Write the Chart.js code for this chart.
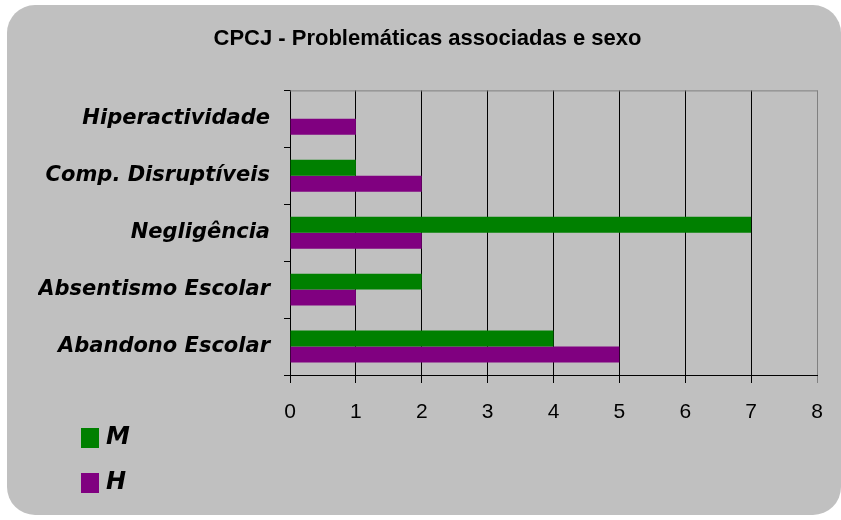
<!DOCTYPE html>
<html>
<head>
<meta charset="utf-8">
<script src="https://cdn.jsdelivr.net/npm/chart.js@4.4.1/dist/chart.umd.min.js"></script>
<style>
  html, body { margin: 0; padding: 0; background: #ffffff; }
  canvas { display: block; }
</style>
</head>
<body>
<canvas id="chart" width="841" height="520"></canvas>
<script>
const categories = ["Hiperactividade", "Comp. Disruptíveis", "Negligência", "Absentismo Escolar", "Abandono Escolar"];
const valuesM = [0, 1, 7, 2, 4];
const valuesH = [1, 2, 2, 1, 5];
const xTicks = [0, 1, 2, 3, 4, 5, 6, 7, 8];

const GRAY = '#c0c0c0';

// rounded gray panel behind everything + gray top/right border of the plot
const panel = {
    id: 'panel',
    beforeDraw(chart) {
        const ctx = chart.ctx;
        ctx.save();
        ctx.fillStyle = '#ffffff';
        ctx.fillRect(0, 0, chart.width, chart.height);
        ctx.fillStyle = GRAY;
        ctx.beginPath();
        ctx.roundRect(7, 5, 834, 510, [28, 28, 28, 28]);
        ctx.fill();
        ctx.restore();
    },
    afterDraw(chart) {
        const a = chart.chartArea;
        const ctx = chart.ctx;
        ctx.save();
        ctx.strokeStyle = '#808080';
        ctx.lineWidth = 1;
        ctx.beginPath();
        ctx.moveTo(a.left, a.top + 0.5);
        ctx.lineTo(a.right + 0.5, a.top + 0.5);
        ctx.lineTo(a.right + 0.5, a.bottom);
        ctx.stroke();

        // legend, bottom left
        ctx.font = 'italic bold 24px "DejaVu Sans", sans-serif';
        ctx.textBaseline = 'middle';
        chart.data.datasets.forEach((ds, i) => {
            const y = 428 + i * 45;
            ctx.fillStyle = ds.backgroundColor;
            ctx.fillRect(81, y, 18, 20);
            ctx.fillStyle = '#000000';
            ctx.fillText(ds.label, 106, y + 10);
        });
        ctx.restore();
    }
};

new Chart(document.getElementById('chart'), {
    type: 'bar',
    data: {
        labels: categories,
        datasets: [
            { label: 'M', data: valuesM, backgroundColor: '#008000' },
            { label: 'H', data: valuesH, backgroundColor: '#800080' }
        ]
    },
    options: {
        indexAxis: 'y',
        responsive: false,
        animation: false,
        categoryPercentage: 0.56,
        barPercentage: 1,
        layout: { padding: { left: 38, right: 24, top: 0, bottom: 0 } },
        scales: {
            x: {
                min: 0,
                max: 8,
                afterFit(scale) { scale.height = 145; },
                afterBuildTicks(scale) { scale.ticks = xTicks.map(v => ({ value: v })); },
                grid: {
                    color: ctx => (ctx.tick && ctx.tick.value === 8 ? '#808080' : '#000000'),
                    tickLength: 8,
                    lineWidth: 1
                },
                border: { color: '#000000' },
                ticks: {
                    color: '#000000',
                    padding: 17,
                    font: { family: '"Liberation Sans", Arial, sans-serif', size: 21 }
                }
            },
            y: {
                afterFit(scale) { scale.width = 252; },
                grid: { drawOnChartArea: false, color: '#000000', tickLength: 6, offset: true },
                border: { color: '#000000' },
                ticks: {
                    color: '#000000',
                    padding: 14,
                    font: { family: '"DejaVu Sans", sans-serif', size: 21, style: 'italic', weight: 'bold' }
                }
            }
        },
        plugins: {
            legend: { display: false },
            tooltip: { enabled: false },
            title: {
                display: true,
                text: 'CPCJ - Problemáticas associadas e sexo',
                color: '#000000',
                padding: { top: 26, bottom: 38 },
                font: { family: '"Liberation Sans Narrow", "Liberation Sans", Arial, sans-serif', size: 22, weight: 'bold' }
            }
        }
    },
    plugins: [panel]
});
</script>
</body>
</html>
